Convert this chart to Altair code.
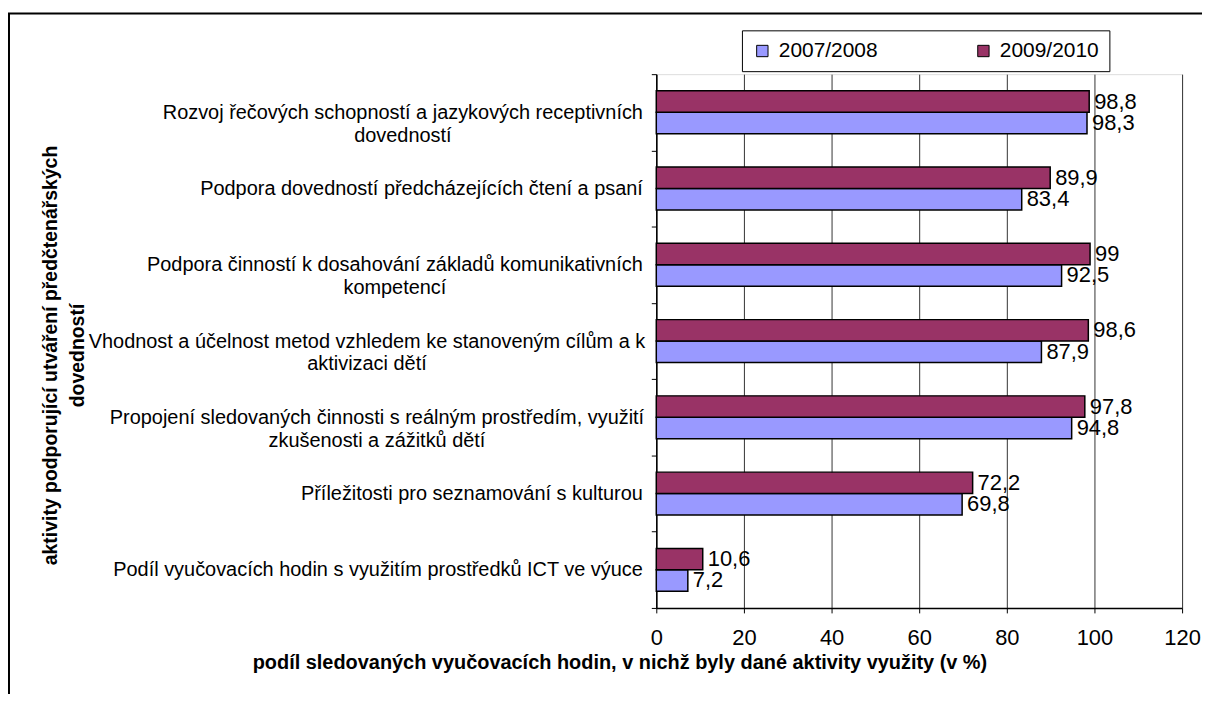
import altair as alt
import pandas as pd

categories = [
    "Rozvoj řečových schopností a jazykových receptivních\ndovedností",
    "Podpora dovedností předcházejících čtení a psaní",
    "Podpora činností k dosahování základů komunikativních\nkompetencí",
    "Vhodnost a účelnost metod vzhledem ke stanoveným cílům a k\naktivizaci dětí",
    "Propojení sledovaných činnosti s reálným prostředím, využití\nzkušenosti a zážitků dětí",
    "Příležitosti pro seznamování s kulturou",
    "Podíl vyučovacích hodin s využitím prostředků ICT ve výuce",
]
series = ["2007/2008", "2009/2010"]
values_2007 = [98.3, 83.4, 92.5, 87.9, 94.8, 69.8, 7.2]
values_2009 = [98.8, 89.9, 99.0, 98.6, 97.8, 72.2, 10.6]
x_ticks = [0, 20, 40, 60, 80, 100, 120]

rows = []
for c, v1, v2 in zip(categories, values_2007, values_2009):
    rows.append({"category": c, "series": series[0], "value": v1})
    rows.append({"category": c, "series": series[1], "value": v2})
df = pd.DataFrame(rows)

FONT = "Liberation Sans"

def has(word):
    return f"isString(datum.value) && indexof(datum.value, '{word}') >= 0"

pad_rules = [
    {"test": has("Rozvoj"), "value": 250},
    {"test": has("dosahov"), "value": 258},
    {"test": has("Vhodnost"), "value": 286},
    {"test": has("Propojen"), "value": 276},
]

y_enc = alt.Y(
    "category:N",
    sort=categories,
    scale=alt.Scale(paddingInner=0, paddingOuter=0),
    axis=alt.Axis(
        title=["aktivity podporující utváření předčtenářských", "dovedností"],
        titleFont=FONT,
        titleFontSize=19.5,
        titleFontWeight="bold",
        titleColor="black",
        titleLineHeight=27,
        titleX=-608,
        titleY=282,
        titleBaseline="middle",
        titleAlign="center",
        titleAngle=270,
        labelExpr="isString(datum.value) ? split(datum.value, '\\n') : ''",
        labelFont=FONT,
        labelFontSize=20,
        labelColor="black",
        labelLineHeight=23,
        labelLimit=0,
        labelAlign={"condition": {"test": has("\\n"), "value": "center"}, "value": "right"},
        labelPadding={"condition": pad_rules, "value": 9},
        tickBand="extent",
        tickSize=5,
        tickColor="black",
        domainColor="black",
        domainWidth=1.5,
        grid=False,
    ),
)
yoff_enc = alt.YOffset(
    "series:N",
    sort=["2009/2010", "2007/2008"],
    scale=alt.Scale(paddingInner=0, paddingOuter=0.78),
)
x_enc = alt.X(
    "value:Q",
    scale=alt.Scale(domain=[0, 120], nice=False),
    axis=alt.Axis(
        values=x_ticks,
        title="podíl sledovaných vyučovacích hodin, v nichž byly dané aktivity využity (v %)",
        titleFont=FONT,
        titleFontSize=20,
        titleFontWeight="bold",
        titleColor="black",
        titleX=-37,
        titleY=55,
        titleBaseline="middle",
        titleAlign="center",
        labelFont=FONT,
        labelFontSize=22,
        labelColor="black",
        labelPadding=15,
        labelFlush=False,
        tickSize=5,
        tickColor="black",
        domainColor="black",
        domainWidth=1.5,
        grid=True,
        gridColor="#333333",
        gridWidth=1,
    ),
)
color_enc = alt.Color(
    "series:N",
    scale=alt.Scale(domain=series, range=["#9999FF", "#993366"]),
    legend=alt.Legend(
        title=None,
        orient="none",
        direction="horizontal",
        legendX=86,
        legendY=-44,
        columns=2,
        columnPadding=95,
        padding=10,
        fillColor="white",
        strokeColor="black",
        symbolType="square",
        symbolSize=130,
        symbolStrokeColor="black",
        symbolStrokeWidth=1,
        labelFont=FONT,
        labelFontSize=21,
        labelColor="black",
        labelOffset=6,
    ),
)

base = alt.Chart(df)

bars = base.mark_bar(stroke="black", strokeWidth=1.5).encode(
    x=x_enc, y=y_enc, yOffset=yoff_enc, color=color_enc
)

labels = base.transform_calculate(
    label="replace(format(datum.value, '.1~f'), '.', ',')"
).mark_text(align="left", baseline="middle", dx=5, font=FONT, fontSize=22, color="black").encode(
    x="value:Q", y=alt.Y("category:N", sort=categories), yOffset=alt.YOffset("series:N", sort=["2009/2010", "2007/2008"]),
    text="label:N",
)

frame = alt.Chart(pd.DataFrame({"f": [0]})).mark_rect(
    fillOpacity=0, stroke="black", strokeWidth=2
).encode(
    x=alt.value(-650), x2=alt.value(700), y=alt.value(-61), y2=alt.value(720)
)

chart = alt.layer(frame, bars, labels).properties(
    width=528,
    height=536,
    padding={"left": 651, "top": 65, "right": 20, "bottom": 85},
    autosize=alt.AutoSizeParams(type="none"),
).configure_view(stroke="#808080", strokeWidth=1).configure(background="white")

chart.save("out.html", embed_options={"renderer": "svg", "actions": False})
